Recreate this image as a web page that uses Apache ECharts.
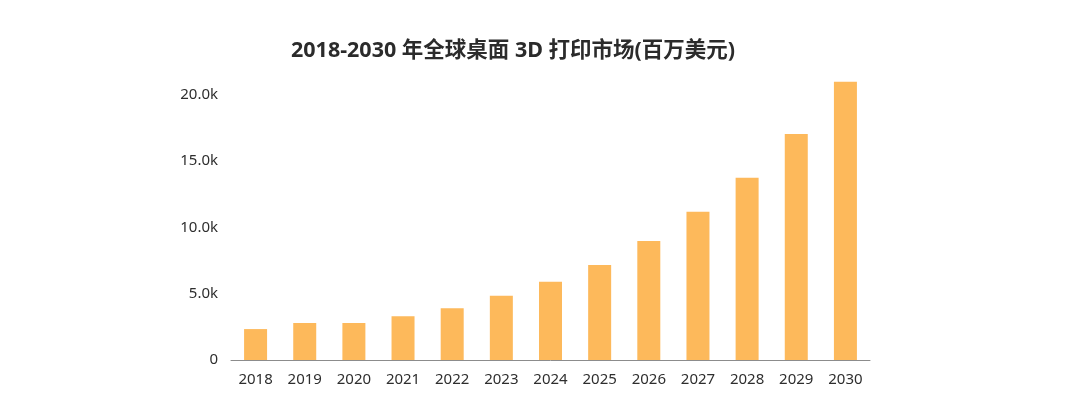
<!DOCTYPE html>
<html>
<head>
<meta charset="utf-8">
<script src="https://cdn.jsdelivr.net/npm/echarts@6/dist/echarts.min.js"></script>
<style>
html,body{margin:0;padding:0;background:#fff;}
#main{width:1080px;height:418px;}
</style>
</head>
<body>
<div id="main"></div>
<script>
var titleText = '2018-2030 年全球桌面 3D 打印市场(百万美元)';
var years = ['2018','2019','2020','2021','2022','2023','2024','2025','2026','2027','2028','2029','2030'];
var marketValues = [2330, 2790, 2790, 3290, 3890, 4840, 5900, 7150, 8960, 11170, 13730, 17020, 20960];

var chart = echarts.init(document.getElementById('main'));
var fontFam = "'Noto Sans', 'Noto Sans CJK SC', sans-serif";
chart.setOption({
  backgroundColor: '#fff',
  title: {
    text: titleText,
    left: 286,
    top: 35,
    textStyle: { fontSize: 21.5, fontWeight: 'bold', color: '#2b2b2b', fontFamily: fontFam }
  },
  grid: { left: 231, right: 210, top: 68, bottom: 58 },
  xAxis: {
    type: 'category',
    data: years,
    axisLine: { show: true, lineStyle: { color: '#8c8c8c', width: 1 } },
    axisTick: { show: false },
    axisLabel: { color: '#2e2e2e', fontSize: 15, margin: 12, fontFamily: fontFam }
  },
  yAxis: {
    type: 'value',
    min: 0,
    max: 22000,
    interval: 5000,
    axisLine: { show: false },
    axisTick: { show: false },
    splitLine: { show: false },
    axisLabel: {
      color: '#2e2e2e', fontSize: 15, margin: 13, fontFamily: fontFam,
      formatter: function (v) {
        if (v % 5000 !== 0) return '';
        return v === 0 ? '0' : (v / 1000).toFixed(1) + 'k';
      }
    }
  },
  series: [{
    type: 'bar',
    data: marketValues,
    barWidth: 23,
    itemStyle: { color: '#FDB95B' }
  }]
});
</script>
</body>
</html>
